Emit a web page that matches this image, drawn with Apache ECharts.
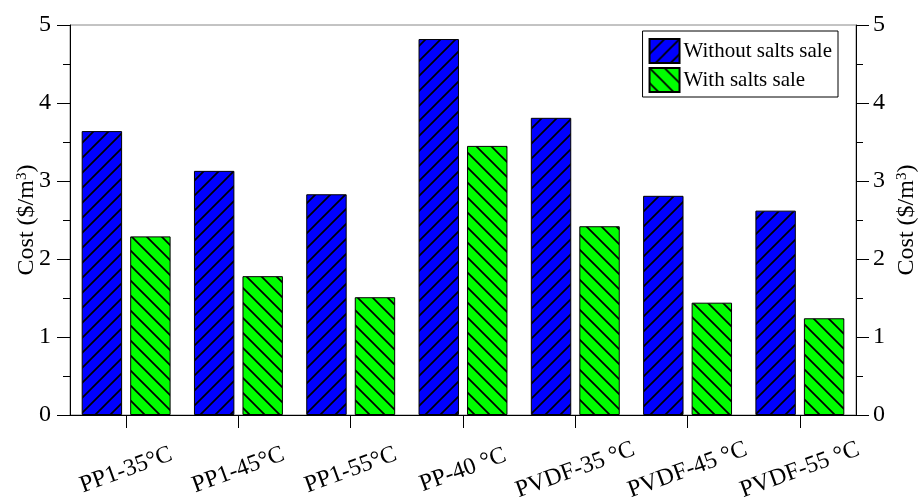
<!DOCTYPE html>
<html>
<head>
<meta charset="utf-8">
<script src="https://cdn.jsdelivr.net/npm/echarts@6/dist/echarts.min.js"></script>
<style>
  html, body { margin: 0; padding: 0; background: #fff; }
  #chart { width: 919px; height: 500px; }
</style>
</head>
<body>
<div id="chart"></div>
<script>
// Categories and costs ($/m³)
var categories = ['PP1-35°C', 'PP1-45°C', 'PP1-55°C', 'PP-40 °C', 'PVDF-35 °C', 'PVDF-45 °C', 'PVDF-55 °C'];
var withoutSalts = [3.64, 3.13, 2.83, 4.82, 3.81, 2.81, 2.62];
var withSalts = [2.29, 1.78, 1.51, 3.45, 2.42, 1.44, 1.24];
var yTicks = [0, 1, 2, 3, 4, 5];

// Hatched fill: solid colour with diagonal black strokes
function hatch(bg, forward) {
  var s = 15;
  var c = document.createElement('canvas');
  c.width = s; c.height = s;
  var g = c.getContext('2d');
  g.fillStyle = bg;
  g.fillRect(0, 0, s, s);
  g.strokeStyle = '#000';
  g.lineWidth = 1.7;
  g.beginPath();
  if (forward) {
    g.moveTo(-2, s + 2); g.lineTo(s + 2, -2);
    g.moveTo(-2, 2); g.lineTo(2, -2);
    g.moveTo(s - 2, s + 2); g.lineTo(s + 2, s - 2);
  } else {
    g.moveTo(-2, -2); g.lineTo(s + 2, s + 2);
    g.moveTo(s - 2, -2); g.lineTo(s + 2, 2);
    g.moveTo(-2, s - 2); g.lineTo(2, s + 2);
  }
  g.stroke();
  return { image: c, repeat: 'repeat' };
}

var serif = 'Liberation Serif';
var chart = echarts.init(document.getElementById('chart'));

function yAxis(pos, gap, margin) {
  return {
    type: 'value',
    position: pos,
    min: yTicks[0],
    max: yTicks[yTicks.length - 1],
    interval: 1,
    name: 'Cost ($/m{sup|3})',
    nameLocation: 'middle',
    nameRotate: 90,
    nameGap: gap,
    nameMoveOverlap: false,
    nameTextStyle: {
      fontFamily: serif, fontSize: 24, color: '#000',
      rich: { sup: { fontFamily: serif, fontSize: 15, color: '#000', verticalAlign: 'top', padding: [0, 0, 9, 0] } }
    },
    axisLine: { show: true, lineStyle: { color: '#000', width: 1 } },
    axisTick: { show: true, length: 13, lineStyle: { color: '#000' } },
    minorTick: { show: true, splitNumber: 2, length: 7, lineStyle: { color: '#000' } },
    splitLine: { show: false },
    axisLabel: { fontFamily: serif, fontSize: 24, color: '#000', margin: margin }
  };
}

chart.setOption({
  animation: false,
  grid: {
    left: 70, right: 63, top: 25, bottom: 85,
    containLabel: false, outerBoundsMode: 'none',
    show: true, borderColor: '#888', borderWidth: 1
  },
  legend: {
    right: 81,
    top: 31,
    orient: 'vertical',
    itemWidth: 30,
    itemHeight: 24,
    itemGap: 3,
    padding: [7, 6, 4, 6],
    borderColor: '#000',
    borderWidth: 1,
    backgroundColor: '#fff',
    textStyle: { fontFamily: serif, fontSize: 21, color: '#000', padding: [0, 0, 0, -1] },
    data: [
      { name: 'Without salts sale', icon: 'rect' },
      { name: 'With salts sale', icon: 'rect' }
    ]
  },
  xAxis: {
    type: 'category',
    data: categories,
    axisLine: { show: true, lineStyle: { color: '#000' } },
    axisTick: { show: true, alignWithLabel: true, length: 13, lineStyle: { color: '#000' } },
    axisLabel: {
      interval: 0,
      rotate: 20,
      align: 'center',
      verticalAlign: 'middle',
      margin: 55,
      fontFamily: serif,
      fontSize: 24,
      color: '#000'
    }
  },
  yAxis: [yAxis('left', 31, 19), yAxis('right', 39, 17)],
  series: [
    {
      name: 'Without salts sale',
      type: 'bar',
      data: withoutSalts,
      barWidth: '36%',
      barGap: '20%',
      itemStyle: { color: hatch('#0000ff', true), borderColor: '#000', borderWidth: 1 }
    },
    {
      name: 'With salts sale',
      type: 'bar',
      data: withSalts,
      barWidth: '36%',
      itemStyle: { color: hatch('#00ff00', false), borderColor: '#000', borderWidth: 1 }
    }
  ]
});
</script>
</body>
</html>
